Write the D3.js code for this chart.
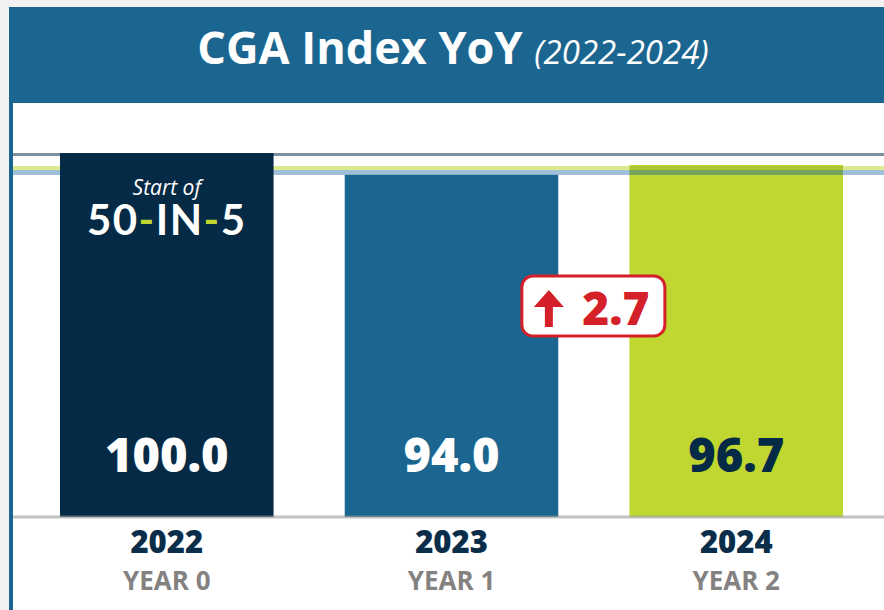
<!DOCTYPE html>
<html>
<head>
<meta charset="utf-8">
<script src="https://cdnjs.cloudflare.com/ajax/libs/d3/7.8.5/d3.min.js"></script>
<style>
	html,body{margin:0;padding:0;background:#f2f2f2;}
	svg{display:block;}
</style>
</head>
<body>
<script>

var years = ["2022","2023","2024"];
var yearLabels = ["YEAR 0","YEAR 1","YEAR 2"];
var indexValues = [100.0, 94.0, 96.7];
var barColors = ["#052a45","#1b6690","#bfd730"];
var valueColors = ["#ffffff","#ffffff","#052a45"];

var width = 884, height = 610;

var svg = d3.select('body').append('svg')
	.attr('width',width)
	.attr('height',height);

// panel + header
svg.append('rect').attr('x',9).attr('y',7).attr('width',width-9).attr('height',height-7).attr('fill','#ffffff');
svg.append('rect').attr('x',9).attr('y',7).attr('width',width-9).attr('height',96).attr('fill','#1b6690');
svg.append('rect').attr('x',9).attr('y',7).attr('width',4).attr('height',height-7).attr('fill','#1b6690');

var title = svg.append('text')
	.attr('x',453)
	.attr('y',64)
	.attr('text-anchor','middle')
	.attr('fill','#ffffff')
	.style('font-family','"Open Sans", sans-serif');
title.append('tspan')
	.style('font-weight','bold')
	.style('font-size','45px')
	.style('font-stretch','92%')
	.text('CGA Index YoY ');
title.append('tspan')
	.style('font-style','italic')
	.style('font-size','33px')
	.style('font-stretch','100%')
	.text('(2022-2024)');

// scales
var x = d3.scaleBand()
	.domain(years)
	.range([60,843])
	.paddingInner(0.25)
	.paddingOuter(0);

var y = d3.scaleLinear()
	.domain([0,100])
	.range([517,153]);

var g = svg.append('g');

// reference line at the 2022 level
g.append('line')
	.attr('x1',13).attr('x2',width)
	.attr('y1',y(indexValues[0])+1.5).attr('y2',y(indexValues[0])+1.5)
	.attr('stroke','#7d909e')
	.attr('stroke-width',3);

var bars = g.selectAll('rect.bar').data(indexValues).enter()
	.append('rect')
	.attr('class','bar')
	.attr('x',function(d,i){return x(years[i]);})
	.attr('y',function(d){return y(d);})
	.attr('width',x.bandwidth())
	.attr('height',function(d){return y(0)-y(d);})
	.attr('fill',function(d,i){return barColors[i];});

// two-tone line between the 2023 and 2024 levels
var midY = (y(indexValues[1]) + y(indexValues[2])) / 2;
var lineG = g.insert('g','rect.bar');
lineG.append('line')
	.attr('x1',13).attr('x2',width)
	.attr('y1',midY-2).attr('y2',midY-2)
	.attr('stroke','#bfd730')
	.attr('stroke-opacity',0.55)
	.attr('stroke-width',4);
lineG.append('line')
	.attr('x1',13).attr('x2',width)
	.attr('y1',midY+2.5).attr('y2',midY+2.5)
	.attr('stroke','#5f96bf')
	.attr('stroke-opacity',0.6)
	.attr('stroke-width',5);

// the same line shows through the lime bar
var overLime = g.append('g');
overLime.append('line')
	.attr('x1',x(years[2])).attr('x2',x(years[2])+x.bandwidth())
	.attr('y1',midY-2).attr('y2',midY-2)
	.attr('stroke','#8fa63a')
	.attr('stroke-opacity',0.35)
	.attr('stroke-width',4);
overLime.append('line')
	.attr('x1',x(years[2])).attr('x2',x(years[2])+x.bandwidth())
	.attr('y1',midY+2.5).attr('y2',midY+2.5)
	.attr('stroke','#1b6690')
	.attr('stroke-opacity',0.45)
	.attr('stroke-width',5);

// baseline
g.append('line')
	.attr('x1',13).attr('x2',width)
	.attr('y1',y(0)).attr('y2',y(0))
	.attr('stroke','#9a9a9a')
	.attr('stroke-opacity',0.6)
	.attr('stroke-width',3);

// value labels
g.selectAll('text.value').data(indexValues).enter()
	.append('text')
	.attr('class','value')
	.attr('x',function(d,i){return x(years[i])+x.bandwidth()/2;})
	.attr('y',y(0)-45)
	.attr('text-anchor','middle')
	.attr('fill',function(d,i){return valueColors[i];})
	.style('font-family','"Open Sans", sans-serif')
	.style('font-weight','800')
	.style('font-size','47px')
	.text(function(d){return d3.format('.1f')(d);});

// start of 50-IN-5
var cx0 = x(years[0])+x.bandwidth()/2;
g.append('text')
	.attr('x',cx0)
	.attr('y',y(indexValues[0])+42)
	.attr('text-anchor','middle')
	.attr('fill','#ffffff')
	.style('font-family','"Open Sans", sans-serif')
	.style('font-style','italic')
	.style('font-size','21px')
	.text('Start of');

var brand = g.append('text')
	.attr('x',cx0)
	.attr('y',y(indexValues[0])+82)
	.attr('text-anchor','middle')
	.attr('fill','#ffffff')
	.style('font-family','Lato, sans-serif')
	.style('font-weight','bold')
	.style('font-size','42px')
	.style('letter-spacing','1.5px');
brand.append('tspan').text('50');
brand.append('tspan').attr('fill','#bfd730').text('-');
brand.append('tspan').text('IN');
brand.append('tspan').attr('fill','#bfd730').text('-');
brand.append('tspan').text('5');

// category labels
g.selectAll('text.year').data(years).enter()
	.append('text')
	.attr('class','year')
	.attr('x',function(d){return x(d)+x.bandwidth()/2;})
	.attr('y',y(0)+36)
	.attr('text-anchor','middle')
	.attr('fill','#0a2d4a')
	.style('font-family','"Open Sans", sans-serif')
	.style('font-weight','800')
	.style('font-size','31px')
	.text(function(d){return d;});

g.selectAll('text.yearlabel').data(yearLabels).enter()
	.append('text')
	.attr('class','yearlabel')
	.attr('x',function(d,i){return x(years[i])+x.bandwidth()/2;})
	.attr('y',y(0)+73)
	.attr('text-anchor','middle')
	.attr('fill','#848181')
	.style('font-family','"Open Sans", sans-serif')
	.style('font-weight','bold')
	.style('font-size','26px')
	.text(function(d){return d;});

// change badge
var change = indexValues[2]-indexValues[1];
var badgeX = (x(years[1])+x(years[2])+x.bandwidth())/2;
var badge = g.append('g').attr('transform','translate('+badgeX+',306)');
badge.append('rect')
	.attr('x',-72).attr('y',-30)
	.attr('width',143).attr('height',60)
	.attr('rx',11)
	.attr('fill','#ffffff')
	.attr('stroke','#d42029')
	.attr('stroke-width',3);
badge.append('path')
	.attr('d','M-45,-16 L-60,1 L-49,1 L-49,21 L-41,21 L-41,1 L-30,1 Z')
	.attr('fill','#d42029');
badge.append('text')
	.attr('x',22)
	.attr('y',19)
	.attr('text-anchor','middle')
	.attr('fill','#d42029')
	.style('font-family','"Open Sans", sans-serif')
	.style('font-weight','800')
	.style('font-size','46px')
	.text(d3.format('.1f')(change));

</script>
</body>
</html>
